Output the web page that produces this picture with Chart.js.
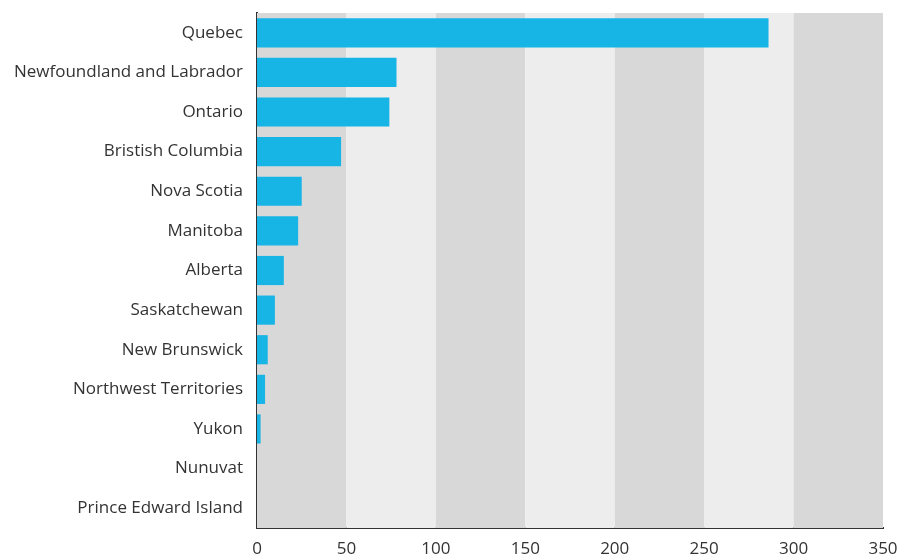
<!DOCTYPE html>
<html lang="en">
<head>
    <meta charset="UTF-8">
    <title>Canada by province</title>
    <script src="https://cdn.jsdelivr.net/npm/chart.js"></script>
    <style>
        * {
            margin: 0;
            padding: 0;
            box-sizing: border-box;
        }
        body {
            background-color: #fff;
        }
        .chart-container {
            width: 901px;
            height: 559px;
        }
    </style>
</head>
<body>
    <div class="chart-container">
        <canvas id="provinceChart"></canvas>
    </div>

    <script>
        const provinces = [
            'Quebec', 'Newfoundland and Labrador', 'Ontario', 'Bristish Columbia',
            'Nova Scotia', 'Manitoba', 'Alberta', 'Saskatchewan', 'New Brunswick',
            'Northwest Territories', 'Yukon', 'Nunuvat', 'Prince Edward Island'
        ];
        const counts = [286, 78, 74, 47, 25, 23, 15, 10, 6, 4.5, 2, 0, 0];
        const xTicks = [0, 50, 100, 150, 200, 250, 300, 350];

        // alternating background columns behind the bars
        const bandPlugin = {
            id: 'bands',
            beforeDatasetsDraw(chart) {
                const { ctx, chartArea, scales } = chart;
                ctx.save();
                for (let i = 0; i < xTicks.length - 1; i++) {
                    const x0 = scales.x.getPixelForValue(xTicks[i]);
                    const x1 = scales.x.getPixelForValue(xTicks[i + 1]);
                    ctx.fillStyle = i % 2 === 0 ? '#d8d8d8' : '#ededed';
                    ctx.fillRect(x0, chartArea.top, x1 - x0, chartArea.bottom - chartArea.top);
                }
                ctx.restore();
            }
        };

        document.addEventListener('DOMContentLoaded', () => {
            const ctx = document.getElementById('provinceChart').getContext('2d');
            new Chart(ctx, {
                type: 'bar',
                data: {
                    labels: provinces,
                    datasets: [{
                        data: counts,
                        backgroundColor: '#17b4e6',
                        borderWidth: 0,
                        barPercentage: 0.8,
                        categoryPercentage: 0.92
                    }]
                },
                options: {
                    indexAxis: 'y',
                    responsive: true,
                    maintainAspectRatio: false,
                    animation: false,
                    layout: {
                        padding: { top: 13, right: 18, left: 0, bottom: 0 }
                    },
                    plugins: {
                        legend: { display: false },
                        tooltip: { enabled: false }
                    },
                    scales: {
                        x: {
                            min: 0,
                            max: 350,
                            afterBuildTicks: scale => {
                                scale.ticks = xTicks.map(v => ({ value: v }));
                            },
                            afterFit: scale => {
                                scale.height = 31;
                                scale.paddingLeft = 0;
                                scale.paddingRight = 0;
                            },
                            grid: { display: false, drawTicks: false },
                            border: { display: true, color: '#333', width: 2 },
                            ticks: {
                                color: '#333',
                                padding: 11,
                                font: { family: 'Open Sans', size: 17 }
                            }
                        },
                        y: {
                            afterFit: scale => {
                                scale.width = 257;
                                scale.paddingTop = 0;
                                scale.paddingBottom = 0;
                            },
                            grid: { display: false, drawTicks: false },
                            border: { display: true, color: '#333', width: 2 },
                            ticks: {
                                color: '#333',
                                padding: 14,
                                font: { family: 'Open Sans', size: 17 }
                            }
                        }
                    }
                },
                plugins: [bandPlugin]
            });
        });
    </script>
</body>
</html>
